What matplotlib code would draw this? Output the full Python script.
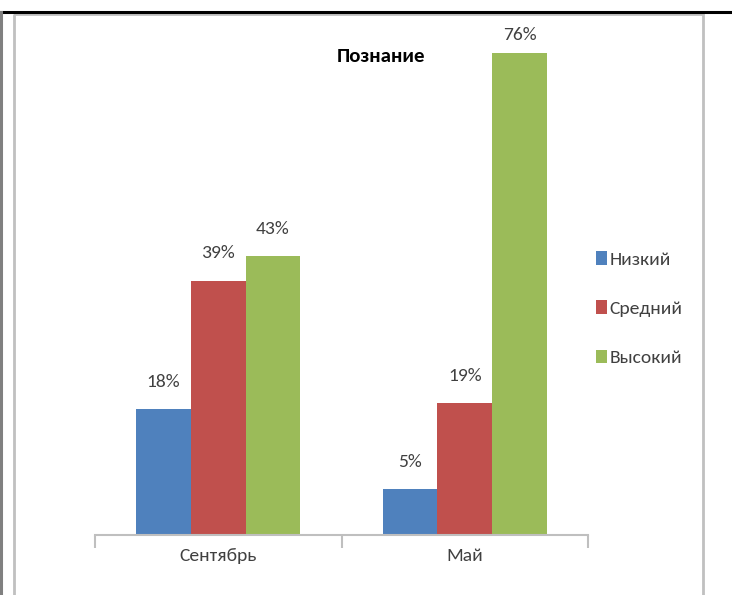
import matplotlib
matplotlib.use('Agg')
import matplotlib.pyplot as plt
from matplotlib.patches import Rectangle

plt.rcParams['font.family'] = ['Carlito', 'DejaVu Sans']

title = 'Познание'
months = ['Сентябрь', 'Май']
levels = ['Низкий', 'Средний', 'Высокий']
low = [18, 5]
mid = [39, 19]
high = [43, 76]
colors = ['#4F81BD', '#C0504D', '#9BBB59']

W, H = 732, 595
fig = plt.figure(figsize=(W / 100, H / 100), dpi=100)

# frame around the picture (pixel coordinates)
bg = fig.add_axes([0, 0, 1, 1])
bg.set_xlim(0, W)
bg.set_ylim(H, 0)
bg.axis('off')
bg.add_patch(Rectangle((14, 14), 689, 600, fill=False, edgecolor='#c0c0c0', lw=2))
bg.plot([0, W], [12, 12], color='black', lw=2.2)
bg.plot([1, 1], [12, H], color='#808080', lw=2.2)

# main chart
ax = fig.add_axes([95 / W, 1 - 535 / H, 493 / W, 521 / H])
ax.set_facecolor('none')
ymin = -2.44
ax.set_xlim(-0.5, 1.5)
ax.set_ylim(ymin, 82.4)

fs = 14
width = 0.222
series = [low, mid, high]
for i, (vals, lab, c) in enumerate(zip(series, levels, colors)):
    xs = [k + (i - 1) * width for k in range(len(months))]
    ax.bar(xs, [v - ymin for v in vals], width, bottom=ymin, color=c, label=lab)
    for x, v in zip(xs, vals):
        # labels sit above the bar, but stay inside the plot area like in Excel
        ax.text(x, min(v + 4.4, 79), f'{v}%', ha='center', va='center',
                fontsize=fs, color='#404040')

for s in ['top', 'left', 'right']:
    ax.spines[s].set_visible(False)
ax.spines['bottom'].set_color('#bfbfbf')
ax.spines['bottom'].set_linewidth(1.5)
ax.set_yticks([])
ax.set_xticks([-0.5, 0.5, 1.5])
ax.set_xticklabels([])
ax.tick_params(axis='x', which='major', length=9.5, width=1.5, color='#bfbfbf')
ax.set_xticks([0, 1], minor=True)
ax.set_xticklabels(months, minor=True, fontsize=fs, color='#404040')
ax.tick_params(axis='x', which='minor', length=0, pad=9.5)

fig.text(381 / W, 1 - 57 / H, title, ha='center', va='center', fontsize=fs + 1,
         fontweight='bold', color='black')

ax.legend(loc='upper left', bbox_to_anchor=(596 / W, 1 - 251 / H),
          bbox_transform=fig.transFigure, frameon=False, fontsize=fs,
          handlelength=0.55, handleheight=0.7, handletextpad=0.15,
          labelspacing=1.68, borderpad=0, borderaxespad=0, labelcolor='#404040')

fig.savefig('out.png', dpi=100)
